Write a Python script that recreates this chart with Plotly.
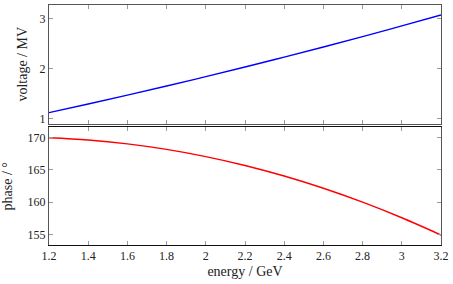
import plotly.graph_objects as go

energy = [1.2, 1.4, 1.6, 1.8, 2.0, 2.2, 2.4, 2.6, 2.8, 3.0, 3.2]
voltage = [1.120, 1.293, 1.470, 1.653, 1.842, 2.035, 2.234, 2.437, 2.646, 2.861, 3.080]
phase = [170.00, 169.66, 169.06, 168.20, 167.08, 165.70, 164.06, 162.16, 160.00, 157.58, 154.90]

x_ticks = [1.2, 1.4, 1.6, 1.8, 2.0, 2.2, 2.4, 2.6, 2.8, 3.0, 3.2]
x_ticklabels = ["1.2", "1.4", "1.6", "1.8", "2", "2.2", "2.4", "2.6", "2.8", "3", "3.2"]
v_ticks = [1, 2, 3]
p_ticks = [155, 160, 165, 170]

FONT = "Liberation Serif"
frame = "#555555"
tickc = "#9a9a9a"

fig = go.Figure()
fig.add_trace(go.Scatter(x=energy, y=voltage, mode="lines",
                         line=dict(color="#0000ff", width=1.4, shape="spline"),
                         xaxis="x2", yaxis="y2", showlegend=False))
fig.add_trace(go.Scatter(x=energy, y=phase, mode="lines",
                         line=dict(color="#ff0000", width=1.4, shape="spline"),
                         xaxis="x", yaxis="y", showlegend=False))

common_x = dict(range=[1.2, 3.2], tickvals=x_ticks, ticktext=x_ticklabels, ticks="inside", ticklen=4,
                tickcolor=tickc, showline=True, linewidth=1, mirror="ticks",
                showgrid=False, zeroline=False)
common_y = dict(ticks="inside", ticklen=4, tickcolor=tickc, showline=True, linecolor=frame, linewidth=1,
                mirror="ticks", showgrid=False, zeroline=False)

fig.update_layout(
    width=453, height=284,
    margin=dict(l=49, r=10, t=4, b=39),
    paper_bgcolor="white", plot_bgcolor="white",
    font=dict(family=FONT, size=12, color="#222222"),
    xaxis=dict(**common_x, linecolor="#111111", domain=[0, 1], anchor="y", showticklabels=True,
               title=dict(text="energy / GeV", standoff=3)),
    yaxis=dict(**common_y, domain=[0, 0.4896], anchor="x", range=[153.35, 171.6], tickvals=p_ticks,
               title=dict(text="phase / °", standoff=11)),
    xaxis2=dict(**common_x, linecolor=frame, domain=[0, 1], anchor="y2", showticklabels=False),
    yaxis2=dict(**common_y, domain=[0.506, 1], anchor="x2", range=[0.9, 3.28], tickvals=v_ticks,
                title=dict(text="voltage / MV", standoff=8)),
)

fig.write_html("out.html")
